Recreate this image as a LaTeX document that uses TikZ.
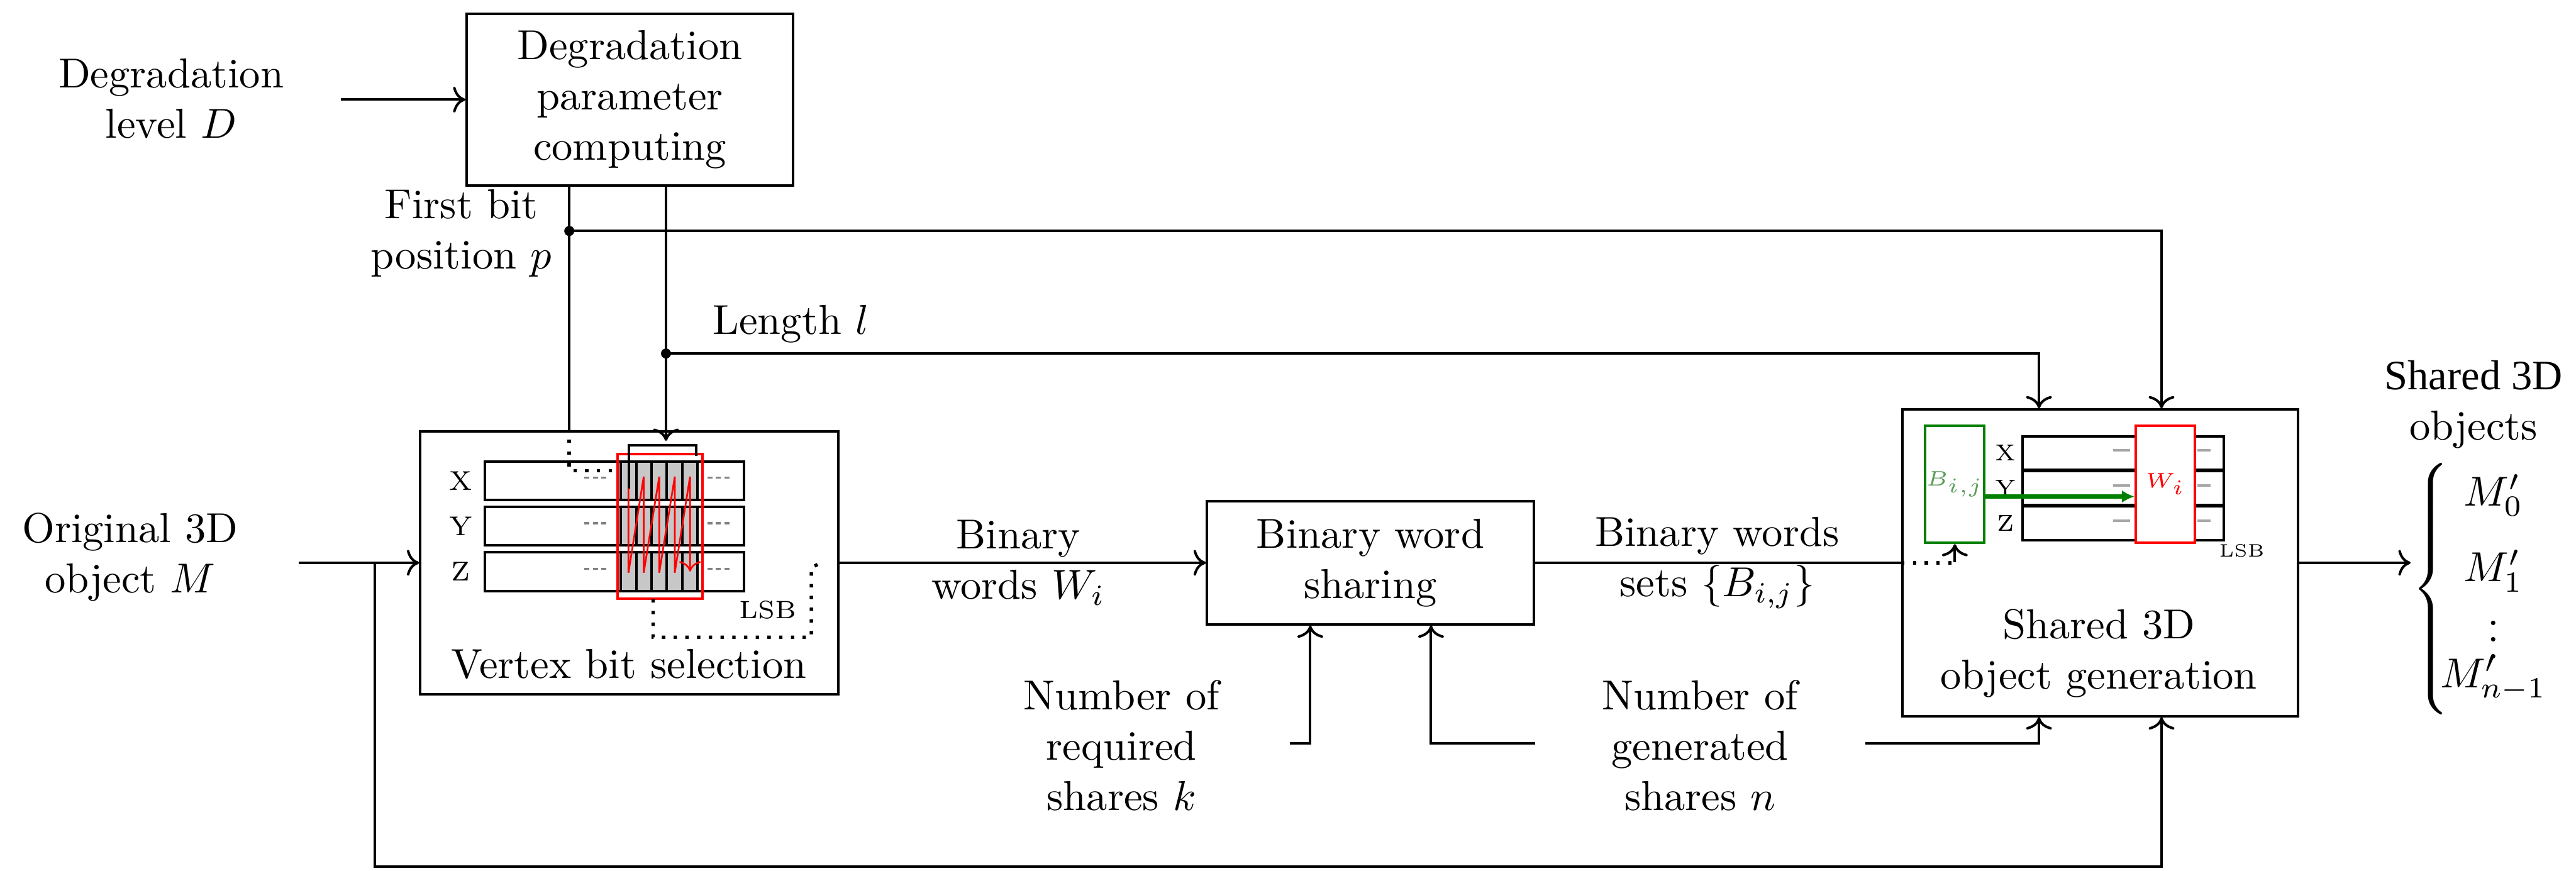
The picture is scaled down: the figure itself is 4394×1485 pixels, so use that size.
\documentclass[tikz,border=0pt]{standalone}
\usepackage{fontspec}
\newfontfamily\tnr{Liberation Serif}
\usetikzlibrary{arrows.meta,calc}
\definecolor{dgreen}{rgb}{0,0.5,0}
\definecolor{lgreen}{rgb}{0.35,0.62,0.35}
\begin{document}
\begin{tikzpicture}[x=0.14pt,y=-0.14pt,semithick,
  box/.style={draw,rectangle,inner sep=0pt,align=center},
  lab/.style={align=center,inner sep=0pt},
  dotline/.style={dotted,line width=0.8pt},
  tickA/.style={gray,dash pattern=on 1.2pt off 0.8pt,line width=0.5pt},
  tickB/.style={gray!70,line width=0.6pt}]
\useasboundingbox (0,0) rectangle (4394,1485);

% ---------- main boxes ----------
\node[box,minimum width=78pt,minimum height=40.9pt] (deg) at (1074.5,170) {Degradation\\parameter\\computing};
\node[box,minimum width=99.8pt,minimum height=62.7pt] (vbs) at (1073.5,960) {};
\node[box,minimum width=78pt,minimum height=29.4pt] (bws) at (2337.5,960) {Binary word\\sharing};
\node[box,minimum width=94.5pt,minimum height=73.2pt] (sog) at (3582.5,960) {};

% ---------- degradation input ----------
\node[lab] (dlab) at (292,168) {Degradation\\level $D$};
\coordinate (dst) at (581,170);
\draw[->] (dst) -- (deg.west);

% ---------- parameters p and l ----------
\coordinate (pdot) at (971,394);
\coordinate (ldot) at (1136,603);
\coordinate (lend) at (1136,752);
\coordinate (pcol) at (3687,0);
\coordinate (lcol) at (3478,0);
\draw (deg.south -| pdot) -- (vbs.north -| pdot);
\draw (deg.south -| ldot) -- (ldot);
\draw[->] (ldot) -- (lend);
\fill (pdot) circle (1.2pt);
\fill (ldot) circle (1.2pt);
\draw[->] (pdot) -| (sog.north -| pcol);
\draw[->] (ldot) -| (sog.north -| lcol);
\node[lab] (plab) at (787,398) {First bit\\position $p$};
\node[lab] (llab) at (1349,553) {Length $l$};

% ---------- original object ----------
\node[lab] (mlab) at (222,950) {Original 3D\\object $M$};
\coordinate (mst) at (510,960);
\coordinate (br) at (639,960);
\coordinate (bot) at (639,1478);
\draw[->] (mst) -- (vbs.west);
\draw[->] (br) -- (bot) -| (sog.south -| pcol);

% ---------- main chain ----------
\draw[->] (vbs.east) -- (bws.west);
\node[lab] (wlab) at (1737,960) {Binary\\words $W_i$};
\draw (bws.east) -- (sog.west);
\node[lab] (blab) at (2929,960) {Binary words\\sets $\{B_{i,j}\}$};

% ---------- k and n ----------
\node[lab] (klab) at (1913,1272) {Number of\\required\\shares $k$};
\node[lab] (nlab) at (2900,1272) {Number of\\generated\\shares $n$};
\coordinate (kst) at (2200,1268);
\coordinate (kcol) at (2235,0);
\coordinate (nl) at (2619,1268);
\coordinate (ncol) at (2441,0);
\coordinate (nr) at (3182,1268);
\draw[->] (kst) -| (bws.south -| kcol);
\draw[->] (nl) -| (bws.south -| ncol);
\draw[->] (nr) -| (sog.south -| lcol);

% ---------- output ----------
\node[inner sep=0pt] (brc) at (4150,1010) {$\left\{\rule[-29pt]{0pt}{58pt}\right.$};
\draw[->] (sog.east) -- (brc.west |- sog.east);
\node[inner sep=0pt] (m0) at (4253,845) {$M'_0$};
\node[inner sep=0pt] (m1) at (4253,974) {$M'_1$};
\node[inner sep=0pt] (mv) at (4253,1070) {$\vdots$};
\node[inner sep=0pt] (mn) at (4253,1158) {$M'_{n-1}$};
\node[lab] (solab) at (4219,690) {\fontspec{Liberation Serif}\fontsize{10}{10.8}\selectfont Shared 3D\\objects};

% ---------- vertex bit selection internals ----------
\foreach \r/\t in {0/X,1/Y,2/Z} {
  \pgfmathsetmacro\yt{787+77.5*\r}
  \draw (827,\yt) rectangle (1269,{\yt+66});
  \foreach \c in {0,...,4}
    \draw[fill=black!22] ({1059+26.2*\c},\yt) rectangle ({1059+26.2*(\c+1)},{\yt+66});
  \node[inner sep=0pt,font=\fontsize{6.5}{7}\selectfont] (vl\r) at (786,{\yt+33}) {\t};
  \draw[tickA] (997,{\yt+28}) -- (1035,{\yt+28});
  \draw[tickA] (1207,{\yt+28}) -- (1245,{\yt+28});
}
\draw[red] (1053,775) rectangle (1198,1021);
\draw (1073,833) -- (1073,759) -- (1187,759) -- (1187,778);
\draw[red,thin,->] (1072,833) -- (1072,977) -- (1098,813) -- (1098,977) -- (1124.5,813) -- (1124.5,977)
   -- (1151,813) -- (1151,977) -- (1177,813) -- (1177,975);
\draw[dotline] (971,750) -- (971,803) -- (1044,803);
\draw[dotline] (1114,1022) -- (1114,1087) -- (1384,1087) -- (1384,968) -- (1405,958);
\node[inner sep=0pt,font=\fontsize{6}{7}\selectfont] (lsba) at (1310,1040) {LSB};
\node[inner sep=0pt] (vbst) at (1073,1133) {Vertex bit selection};

% ---------- shared object generation internals ----------
\foreach \r/\t in {0/X,1/Y,2/Z} {
  \pgfmathsetmacro\yt{744+60*\r}
  \draw (3450,\yt) rectangle (3793,{\yt+57});
  \node[inner sep=0pt,font=\fontsize{5.5}{6}\selectfont] (sl\r) at (3421,{\yt+28.5}) {\t};
  \draw[tickB] (3604,{\yt+24}) -- (3633,{\yt+24});
  \draw[tickB] (3748,{\yt+24}) -- (3771,{\yt+24});
}
\node[draw=dgreen,fill=white,minimum width=14.14pt,minimum height=28pt,inner sep=0pt,text=lgreen,
      font=\fontsize{5}{6}\selectfont] (grn) at (3334.5,826) {$B_{i,j}$};
\node[draw=red,fill=white,minimum width=14.14pt,minimum height=28pt,inner sep=0pt,text=red,
      font=\fontsize{5}{6}\selectfont] (wred) at (3693.5,826) {$W_i$};
\coordinate (ga) at ($(grn.east)+(0,21)$);
\draw[dgreen,line width=1pt,-{Latex[length=3pt,width=3pt]}] (ga) -- (wred.west |- ga);
\coordinate (gin) at (grn.south |- sog.west);
\draw[dotline] (sog.west) -- (gin);
\draw[->] (gin) ++(0,-1) -- (grn.south);
\node[inner sep=0pt,font=\fontsize{4.3}{5}\selectfont] (lsbb) at (3824,939) {LSB};
\node[lab] (sogt) at (3580,1114) {Shared 3D\\object generation};
\end{tikzpicture}
\end{document}
